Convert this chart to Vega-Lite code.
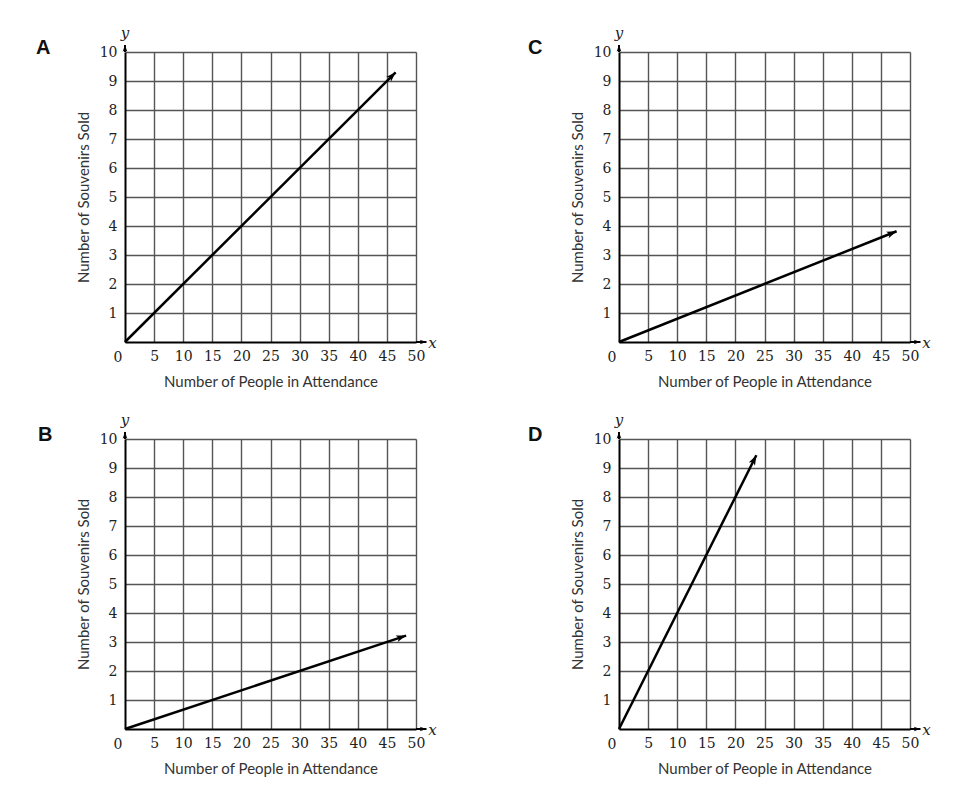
{
  "$schema": "https://vega.github.io/schema/vega-lite/v6.json",
  "description": "Four graphs of souvenirs sold against people in attendance",
  "autosize": {"type": "pad"},
  "padding": {"left": 36, "top": 26, "right": 5, "bottom": 5},
  "background": "white",
  "datasets": {
    "lines": [
      {"panel": "A", "people": 0, "souvenirs": 0, "end": false},
      {"panel": "A", "people": 46.5, "souvenirs": 9.3, "end": true},
      {"panel": "C", "people": 0, "souvenirs": 0, "end": false},
      {"panel": "C", "people": 47.7, "souvenirs": 3.82, "end": true},
      {"panel": "B", "people": 0, "souvenirs": 0, "end": false},
      {"panel": "B", "people": 48.3, "souvenirs": 3.22, "end": true},
      {"panel": "D", "people": 0, "souvenirs": 0, "end": false},
      {"panel": "D", "people": 23.6, "souvenirs": 9.44, "end": true}
    ],
    "xarrow": [{"people": 50, "people2": 51.8, "souvenirs": 0}],
    "yarrow": [{"people": 0, "souvenirs": 10, "souvenirs2": 10.24}],
    "xtip": [{"people": 51.8, "souvenirs": 0}],
    "ytip": [{"people": 0, "souvenirs": 10.24}],
    "xname": [{"people": 52.1, "souvenirs": 0, "label": "x"}],
    "yname": [{"people": 0, "souvenirs": 10.48, "label": "y"}],
    "origin": [{"people": 0, "souvenirs": 0, "label": "0"}]
  },
  "columns": 2,
  "spacing": {"column": 203, "row": 97},
  "bounds": "flush",
  "concat": [
    {
      "title": {"text": "A", "dx": -89, "dy": 36},
      "width": 291,
      "height": 290,
      "encoding": {
        "x": {"field": "people", "type": "quantitative", "title": "Number of People in Attendance", "scale": {"domain": [0, 50], "nice": false}, "axis": {"values": [5, 10, 15, 20, 25, 30, 35, 40, 45, 50], "labelPadding": 7, "titlePadding": 11}},
        "y": {"field": "souvenirs", "type": "quantitative", "title": "Number of Souvenirs Sold", "scale": {"domain": [0, 10], "nice": false}, "axis": {"values": [1, 2, 3, 4, 5, 6, 7, 8, 9, 10], "labelPadding": 8, "titlePadding": 8}}
      },
      "layer": [
        {"data": {"name": "xarrow"}, "mark": {"type": "rule", "color": "#000", "strokeWidth": 2}, "encoding": {"x2": {"field": "people2"}}},
        {"data": {"name": "yarrow"}, "mark": {"type": "rule", "color": "#000", "strokeWidth": 2}, "encoding": {"y2": {"field": "souvenirs2"}}},
        {"data": {"name": "xtip"}, "mark": {"type": "point", "shape": "M0,0L0.7,2L0,1.5L-0.7,2Z", "size": 45, "angle": 90, "filled": true, "opacity": 1, "color": "#000", "strokeWidth": 0}},
        {"data": {"name": "ytip"}, "mark": {"type": "point", "shape": "M0,0L0.7,2L0,1.5L-0.7,2Z", "size": 45, "angle": 0, "filled": true, "opacity": 1, "color": "#000", "strokeWidth": 0}},
        {"data": {"name": "xname"}, "mark": {"type": "text", "align": "left", "baseline": "middle", "dy": 1, "font": "DejaVu Serif", "fontStyle": "italic", "fontSize": 15, "color": "#222"}, "encoding": {"text": {"field": "label"}}},
        {"data": {"name": "yname"}, "mark": {"type": "text", "align": "center", "baseline": "alphabetic", "font": "DejaVu Serif", "fontStyle": "italic", "fontSize": 15, "color": "#222"}, "encoding": {"text": {"field": "label"}}},
        {"data": {"name": "origin"}, "mark": {"type": "text", "align": "center", "baseline": "alphabetic", "dx": -7, "dy": 20, "font": "DejaVu Serif", "fontSize": 14, "color": "#222"}, "encoding": {"text": {"field": "label"}}},
        {"data": {"name": "lines"}, "transform": [{"filter": "datum.panel === 'A'"}], "mark": {"type": "line", "color": "#000", "strokeWidth": 2.5}},
        {"data": {"name": "lines"}, "transform": [{"filter": "datum.panel === 'A' && datum.end"}], "mark": {"type": "point", "shape": "M0,0L0.7,2L0,1.5L-0.7,2Z", "size": 100, "angle": 45.1, "filled": true, "opacity": 1, "color": "#000", "strokeWidth": 0}}
      ]
    },
    {
      "title": {"text": "C", "dx": -91, "dy": 36},
      "width": 291,
      "height": 290,
      "encoding": {
        "x": {"field": "people", "type": "quantitative", "title": "Number of People in Attendance", "scale": {"domain": [0, 50], "nice": false}, "axis": {"values": [5, 10, 15, 20, 25, 30, 35, 40, 45, 50], "labelPadding": 7, "titlePadding": 11}},
        "y": {"field": "souvenirs", "type": "quantitative", "title": "Number of Souvenirs Sold", "scale": {"domain": [0, 10], "nice": false}, "axis": {"values": [1, 2, 3, 4, 5, 6, 7, 8, 9, 10], "labelPadding": 8, "titlePadding": 8}}
      },
      "layer": [
        {"data": {"name": "xarrow"}, "mark": {"type": "rule", "color": "#000", "strokeWidth": 2}, "encoding": {"x2": {"field": "people2"}}},
        {"data": {"name": "yarrow"}, "mark": {"type": "rule", "color": "#000", "strokeWidth": 2}, "encoding": {"y2": {"field": "souvenirs2"}}},
        {"data": {"name": "xtip"}, "mark": {"type": "point", "shape": "M0,0L0.7,2L0,1.5L-0.7,2Z", "size": 45, "angle": 90, "filled": true, "opacity": 1, "color": "#000", "strokeWidth": 0}},
        {"data": {"name": "ytip"}, "mark": {"type": "point", "shape": "M0,0L0.7,2L0,1.5L-0.7,2Z", "size": 45, "angle": 0, "filled": true, "opacity": 1, "color": "#000", "strokeWidth": 0}},
        {"data": {"name": "xname"}, "mark": {"type": "text", "align": "left", "baseline": "middle", "dy": 1, "font": "DejaVu Serif", "fontStyle": "italic", "fontSize": 15, "color": "#222"}, "encoding": {"text": {"field": "label"}}},
        {"data": {"name": "yname"}, "mark": {"type": "text", "align": "center", "baseline": "alphabetic", "font": "DejaVu Serif", "fontStyle": "italic", "fontSize": 15, "color": "#222"}, "encoding": {"text": {"field": "label"}}},
        {"data": {"name": "origin"}, "mark": {"type": "text", "align": "center", "baseline": "alphabetic", "dx": -7, "dy": 20, "font": "DejaVu Serif", "fontSize": 14, "color": "#222"}, "encoding": {"text": {"field": "label"}}},
        {"data": {"name": "lines"}, "transform": [{"filter": "datum.panel === 'C'"}], "mark": {"type": "line", "color": "#000", "strokeWidth": 2.5}},
        {"data": {"name": "lines"}, "transform": [{"filter": "datum.panel === 'C' && datum.end"}], "mark": {"type": "point", "shape": "M0,0L0.7,2L0,1.5L-0.7,2Z", "size": 100, "angle": 68.3, "filled": true, "opacity": 1, "color": "#000", "strokeWidth": 0}}
      ]
    },
    {
      "title": {"text": "B", "dx": -87, "dy": 36},
      "width": 291,
      "height": 290,
      "encoding": {
        "x": {"field": "people", "type": "quantitative", "title": "Number of People in Attendance", "scale": {"domain": [0, 50], "nice": false}, "axis": {"values": [5, 10, 15, 20, 25, 30, 35, 40, 45, 50], "labelPadding": 7, "titlePadding": 11}},
        "y": {"field": "souvenirs", "type": "quantitative", "title": "Number of Souvenirs Sold", "scale": {"domain": [0, 10], "nice": false}, "axis": {"values": [1, 2, 3, 4, 5, 6, 7, 8, 9, 10], "labelPadding": 8, "titlePadding": 8}}
      },
      "layer": [
        {"data": {"name": "xarrow"}, "mark": {"type": "rule", "color": "#000", "strokeWidth": 2}, "encoding": {"x2": {"field": "people2"}}},
        {"data": {"name": "yarrow"}, "mark": {"type": "rule", "color": "#000", "strokeWidth": 2}, "encoding": {"y2": {"field": "souvenirs2"}}},
        {"data": {"name": "xtip"}, "mark": {"type": "point", "shape": "M0,0L0.7,2L0,1.5L-0.7,2Z", "size": 45, "angle": 90, "filled": true, "opacity": 1, "color": "#000", "strokeWidth": 0}},
        {"data": {"name": "ytip"}, "mark": {"type": "point", "shape": "M0,0L0.7,2L0,1.5L-0.7,2Z", "size": 45, "angle": 0, "filled": true, "opacity": 1, "color": "#000", "strokeWidth": 0}},
        {"data": {"name": "xname"}, "mark": {"type": "text", "align": "left", "baseline": "middle", "dy": 1, "font": "DejaVu Serif", "fontStyle": "italic", "fontSize": 15, "color": "#222"}, "encoding": {"text": {"field": "label"}}},
        {"data": {"name": "yname"}, "mark": {"type": "text", "align": "center", "baseline": "alphabetic", "font": "DejaVu Serif", "fontStyle": "italic", "fontSize": 15, "color": "#222"}, "encoding": {"text": {"field": "label"}}},
        {"data": {"name": "origin"}, "mark": {"type": "text", "align": "center", "baseline": "alphabetic", "dx": -7, "dy": 20, "font": "DejaVu Serif", "fontSize": 14, "color": "#222"}, "encoding": {"text": {"field": "label"}}},
        {"data": {"name": "lines"}, "transform": [{"filter": "datum.panel === 'B'"}], "mark": {"type": "line", "color": "#000", "strokeWidth": 2.5}},
        {"data": {"name": "lines"}, "transform": [{"filter": "datum.panel === 'B' && datum.end"}], "mark": {"type": "point", "shape": "M0,0L0.7,2L0,1.5L-0.7,2Z", "size": 100, "angle": 71.6, "filled": true, "opacity": 1, "color": "#000", "strokeWidth": 0}}
      ]
    },
    {
      "title": {"text": "D", "dx": -91, "dy": 36},
      "width": 291,
      "height": 290,
      "encoding": {
        "x": {"field": "people", "type": "quantitative", "title": "Number of People in Attendance", "scale": {"domain": [0, 50], "nice": false}, "axis": {"values": [5, 10, 15, 20, 25, 30, 35, 40, 45, 50], "labelPadding": 7, "titlePadding": 11}},
        "y": {"field": "souvenirs", "type": "quantitative", "title": "Number of Souvenirs Sold", "scale": {"domain": [0, 10], "nice": false}, "axis": {"values": [1, 2, 3, 4, 5, 6, 7, 8, 9, 10], "labelPadding": 8, "titlePadding": 8}}
      },
      "layer": [
        {"data": {"name": "xarrow"}, "mark": {"type": "rule", "color": "#000", "strokeWidth": 2}, "encoding": {"x2": {"field": "people2"}}},
        {"data": {"name": "yarrow"}, "mark": {"type": "rule", "color": "#000", "strokeWidth": 2}, "encoding": {"y2": {"field": "souvenirs2"}}},
        {"data": {"name": "xtip"}, "mark": {"type": "point", "shape": "M0,0L0.7,2L0,1.5L-0.7,2Z", "size": 45, "angle": 90, "filled": true, "opacity": 1, "color": "#000", "strokeWidth": 0}},
        {"data": {"name": "ytip"}, "mark": {"type": "point", "shape": "M0,0L0.7,2L0,1.5L-0.7,2Z", "size": 45, "angle": 0, "filled": true, "opacity": 1, "color": "#000", "strokeWidth": 0}},
        {"data": {"name": "xname"}, "mark": {"type": "text", "align": "left", "baseline": "middle", "dy": 1, "font": "DejaVu Serif", "fontStyle": "italic", "fontSize": 15, "color": "#222"}, "encoding": {"text": {"field": "label"}}},
        {"data": {"name": "yname"}, "mark": {"type": "text", "align": "center", "baseline": "alphabetic", "font": "DejaVu Serif", "fontStyle": "italic", "fontSize": 15, "color": "#222"}, "encoding": {"text": {"field": "label"}}},
        {"data": {"name": "origin"}, "mark": {"type": "text", "align": "center", "baseline": "alphabetic", "dx": -7, "dy": 20, "font": "DejaVu Serif", "fontSize": 14, "color": "#222"}, "encoding": {"text": {"field": "label"}}},
        {"data": {"name": "lines"}, "transform": [{"filter": "datum.panel === 'D'"}], "mark": {"type": "line", "color": "#000", "strokeWidth": 2.5}},
        {"data": {"name": "lines"}, "transform": [{"filter": "datum.panel === 'D' && datum.end"}], "mark": {"type": "point", "shape": "M0,0L0.7,2L0,1.5L-0.7,2Z", "size": 100, "angle": 26.65, "filled": true, "opacity": 1, "color": "#000", "strokeWidth": 0}}
      ]
    }
  ],
  "config": {
    "view": {"stroke": null},
    "title": {"anchor": "start", "frame": "group", "baseline": "alphabetic", "offset": 0, "font": "Liberation Sans", "fontSize": 20, "fontWeight": "bold", "color": "#111"},
    "axis": {
      "grid": true,
      "gridColor": "#555",
      "gridWidth": 1.4,
      "gridOpacity": 1,
      "domainColor": "#000",
      "domainWidth": 2,
      "ticks": false,
      "tickSize": 0,
      "labelFlush": false,
      "labelOverlap": false,
      "labelFont": "DejaVu Serif",
      "labelFontSize": 14,
      "labelColor": "#222",
      "titleFont": "Lato",
      "titleFontSize": 15,
      "titleFontWeight": "normal",
      "titleColor": "#333"
    }
  }
}
